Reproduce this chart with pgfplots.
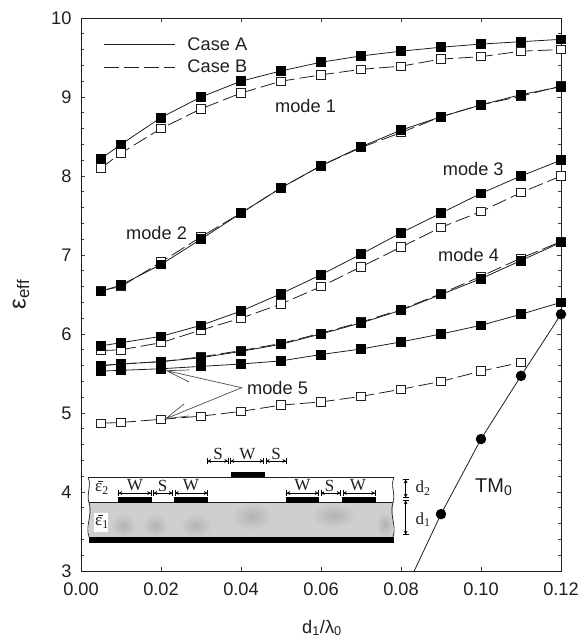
\documentclass[border=0pt]{standalone}
\usepackage{fontspec}
\setmainfont{Liberation Sans}
\newfontfamily\serifx{Liberation Serif}
\usepackage{pgfplots}
\usepackage{pgfplotstable}
\pgfplotsset{compat=1.18}
\usetikzlibrary{arrows.meta}
\pgfplotstableread{
x m1a m1b m2a m2b m3a m3b m4a m4b m5a m5b
0.005 8.22 8.10 6.54 6.55 5.85 5.79 5.60 5.60 5.53 4.87
0.01 8.40 8.29 6.62 6.60 5.89 5.80 5.62 5.62 5.54 4.88
0.02 8.74 8.60 6.88 6.91 5.97 5.89 5.65 5.65 5.56 4.92
0.03 9.00 8.85 7.20 7.23 6.11 6.05 5.70 5.71 5.59 4.96
0.04 9.20 9.05 7.53 7.53 6.29 6.20 5.78 5.79 5.62 5.02
0.05 9.33 9.20 7.85 7.85 6.51 6.38 5.87 5.88 5.66 5.10
0.06 9.44 9.28 8.13 8.13 6.75 6.60 6.00 6.01 5.74 5.14
0.07 9.52 9.35 8.37 8.36 7.01 6.85 6.14 6.15 5.81 5.21
0.08 9.58 9.39 8.58 8.55 7.28 7.10 6.30 6.31 5.90 5.30
0.09 9.63 9.48 8.75 8.75 7.53 7.35 6.50 6.51 6.00 5.40
0.10 9.67 9.51 8.90 8.90 7.78 7.55 6.70 6.73 6.11 5.53
0.11 9.70 9.58 9.03 9.01 8.00 7.79 6.93 6.96 6.25 5.64
0.12 9.73 9.60 9.13 9.14 8.20 8.00 7.16 7.17 6.40 nan
}\modes
\pgfplotstableread{
x y
0.0833 3.00
0.09 3.72
0.10 4.67
0.11 5.47
0.12 6.25
}\tmzero
\definecolor{ink}{gray}{0.12}
\tikzset{
 dim/.style={line width=.7pt,{Bar[width=6pt]Stealth[length=3.5pt,width=4pt]}-{Stealth[length=3.5pt,width=4pt]Bar[width=6pt]}},
 lab/.style={font=\fontsize{18.2pt}{22pt}\selectfont,text=ink,inner sep=0pt},
 ser/.style={font=\serifx\fontsize{17pt}{18pt}\selectfont,text=ink,inner sep=0pt},
 blob/.style={inner color=black!30,outer color=black!19,draw=none},
}
\pgfplotsset{
 caseA/.style={ink,line width=.8pt,mark=square*,mark size=4.4pt,mark options={solid,fill=black,draw=black}},
 caseB/.style={ink,line width=.8pt,dash pattern=on 15pt off 5pt,mark=square*,mark size=4.2pt,mark options={solid,fill=white,draw=ink,line width=.9pt}},
}
\begin{document}
\begin{tikzpicture}
\path[use as bounding box] (0,0) rectangle (586pt,640pt);
\begin{axis}[
 at={(81pt,69pt)},anchor=south west,
 scale only axis,width=480pt,height=553pt,
 xmin=0,xmax=0.12,ymin=3,ymax=10,
 clip=false,
 xtick={0,0.02,0.04,0.06,0.08,0.10,0.12},
 ytick={3,4,5,6,7,8,9,10},
 minor y tick num=4,
 tick align=inside,
 major tick length=4pt,minor tick length=3pt,
 tick style={ink!85,line width=.7pt},
 axis line style={ink,line width=.9pt},
 scaled x ticks=false,
 xticklabel style={/pgf/number format/.cd,assume math mode=true,fixed,fixed zerofill,precision=2,/tikz/.cd,font=\fontsize{18.2pt}{22pt}\selectfont,text=ink,yshift=-8pt},
 yticklabel style={/pgf/number format/.cd,assume math mode=true,fixed,precision=0,/tikz/.cd,font=\fontsize{18.2pt}{22pt}\selectfont,text=ink,xshift=-6pt},
 xlabel={d\textsubscript{1}/λ\textsubscript{0}},
 ylabel={ε\textsubscript{eff}},
 xlabel style={font=\fontsize{18.2pt}{22pt}\selectfont,text=ink,at={(axis description cs:0.502,-0.103)},anchor=center},
 ylabel style={font=\fontsize{24pt}{26pt}\selectfont,text=ink,at={(axis description cs:-0.125,0.5)},anchor=center},
 legend style={draw=none,fill=none,at={(axis cs:0.0055,9.81)},anchor=north west,font=\fontsize{18.2pt}{22pt}\selectfont,text=ink,row sep=0pt,inner sep=0pt,nodes={inner sep=1.5pt,minimum height=22.5pt}},
 legend cell align=left,
 legend image code/.code={\draw[#1] (0pt,0pt) -- (71pt,0pt);},
]
\addlegendimage{ink,line width=.8pt}
\addlegendentry{\hspace{11pt}Case A}
\addlegendimage{ink,line width=.8pt,dash pattern=on 15pt off 5pt}
\addlegendentry{\hspace{11pt}Case B}
\addplot[caseB,forget plot] table[x=x,y=m1b]{\modes};
\addplot[caseA,forget plot] table[x=x,y=m1a]{\modes};
\addplot[caseB,forget plot] table[x=x,y=m2b]{\modes};
\addplot[caseA,forget plot] table[x=x,y=m2a]{\modes};
\addplot[caseB,forget plot] table[x=x,y=m3b]{\modes};
\addplot[caseA,forget plot] table[x=x,y=m3a]{\modes};
\addplot[caseB,forget plot] table[x=x,y=m4b]{\modes};
\addplot[caseA,forget plot] table[x=x,y=m4a]{\modes};
\addplot[caseB,forget plot] table[x=x,y=m5b]{\modes};
\addplot[caseA,forget plot] table[x=x,y=m5a]{\modes};
\addplot[ink,line width=.8pt,mark=*,mark size=4.8pt,mark options={fill=black,draw=black},mark indices={2,3,4,5},forget plot] table[x=x,y=y]{\tmzero};
\end{axis}
\begin{scope}[x=1pt,y=-1pt,yshift=640pt]
% text labels
\node[lab,anchor=west] at (275,106) {mode 1};
\node[lab,anchor=west] at (126,233) {mode 2};
\node[lab,anchor=west] at (442.7,169) {mode 3};
\node[lab,anchor=west] at (438,255) {mode 4};
\node[lab,anchor=west] at (247,387.5) {mode 5};
\node[lab,anchor=west,font=\fontsize{20pt}{22pt}\selectfont] at (475,487) {TM\textsubscript{0}};
% mode 5 arrows
\draw[ink!80,line width=.7pt] (189,382) -- (166.7,370.7) -- (241.7,387.7) -- (165.7,418.7) -- (184,404);
\draw[ink!80,line width=.7pt] (189.7,370) -- (166.7,370.7);
\draw[ink!80,line width=.7pt] (189,416) -- (165.7,418.7);
% inset: dielectric
\fill[black!19] (89,503) rectangle (393,537);
\shade[blob] (110,514) rectangle (136,537);
\shade[blob] (142,514) rectangle (168,537);
\shade[blob] (180,514) rectangle (212,537);
\shade[blob] (232,503) rectangle (272,530);
\shade[blob] (312,503) rectangle (356,528);
\shade[blob] (376,512) rectangle (393,537);
\fill[white] (94,513) rectangle (108,532);
\fill[black] (89,537) rectangle (394,543.3);
\draw[ink,line width=.9pt] (88,477.3) -- (394,477.3);
\draw[ink,line width=.9pt] (89,502.7) -- (393,502.7);
\draw[ink,line width=.7pt] (88,477.3) .. controls (92,485) and (86,495) .. (89,502.7) .. controls (93,515) and (85,525) .. (89,537);
\draw[ink,line width=.7pt] (394,477.3) .. controls (390,485) and (396,495) .. (393,502.7) .. controls (389,515) and (397,525) .. (393,537);
% strips
\fill[black] (231,472) rectangle (265,477.3);
\fill[black] (117.7,497) rectangle (152.3,502.7);
\fill[black] (174,497) rectangle (208,502.7);
\fill[black] (285.7,497) rectangle (319.3,502.7);
\fill[black] (341.7,497) rectangle (375.7,502.7);
% dimensions
\draw[dim] (207,461) -- (228.5,461);
\draw[dim] (230,461) -- (264,461);
\draw[dim] (265.5,461) -- (286.7,461);
\draw[dim] (118,493) -- (151.5,493);
\draw[dim] (153,493) -- (173,493);
\draw[dim] (174.5,493) -- (208,493);
\draw[dim] (286,493) -- (319,493);
\draw[dim] (320.5,493) -- (341,493);
\draw[dim] (342.5,493) -- (375.5,493);
\draw[dim] (405.7,479) -- (405.7,498);
\draw[dim] (405.7,500) -- (405.7,535);
\foreach \px/\t in {218/S,247.5/W,276/S}{\node[ser,fill=white,inner sep=.5pt] at (\px,454) {\t};}
\foreach \px/\t in {135/W,162.5/S,191/W,302.5/W,329.5/S,358/W}{\node[ser,fill=white,inner sep=.5pt] at (\px,485.5) {\t};}
\node[ser,anchor=west] at (415.5,488) {d\textsubscript{2}};
\node[ser,anchor=west] at (415.5,519.5) {d\textsubscript{1}};
\node[ser] at (102,489) {ε\textsubscript{2}};
\draw[ink,line width=.6pt] (98,481.5) -- (103,481.5);
\node[ser] at (102,523) {ε\textsubscript{1}};
\draw[ink,line width=.6pt] (98,515.5) -- (103,515.5);
\end{scope}
\end{tikzpicture}
\end{document}
